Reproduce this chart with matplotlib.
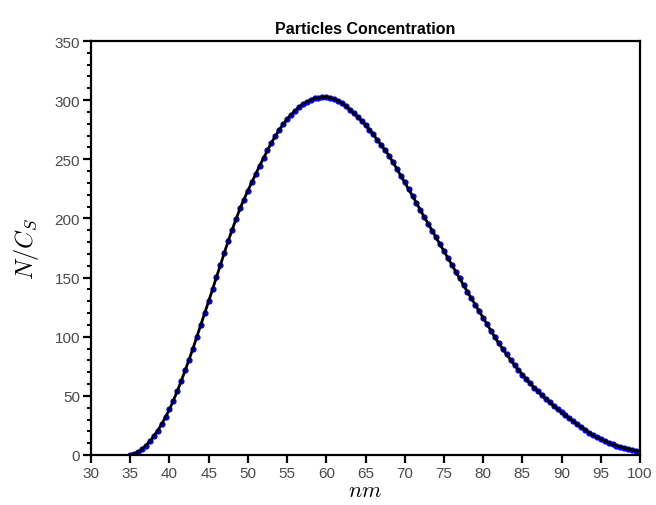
import numpy as np
import matplotlib.pyplot as plt
from matplotlib.ticker import MultipleLocator

plt.rcParams['font.family'] = ['Liberation Sans', 'DejaVu Sans']
plt.rcParams['mathtext.fontset'] = 'cm'

# particle size (nm), sampled every 0.5 nm
size_nm = np.arange(35.0, 100.01, 0.5)

# concentration N/C_S read at each size
conc = [
    0, 1, 2.5, 5, 8, 11.5, 16, 20.5, 26, 32,
    38.5, 46, 54, 62.5, 71.5, 80.5, 90, 100, 110, 120,
    130, 140, 150.5, 160.5, 171, 181, 190.5, 199.5, 208.5, 216,
    223.5, 230.5, 237.5, 244.5, 251, 257.5, 264, 269.5, 275, 279.5,
    284, 287.5, 291, 294, 296.5, 298.5, 300, 301.5, 302, 302.5,
    302.5, 302, 301, 299.5, 297.5, 295, 292, 289, 286, 282.5,
    279, 275, 271, 266.5, 262, 257.5, 253, 247.5, 242, 236,
    230.5, 224.5, 219, 213, 207, 201, 195.5, 189.5, 184, 178,
    172.5, 166.5, 161, 155, 149.5, 143.5, 138, 132.5, 127, 121.5,
    116, 110.5, 105, 99.5, 94.5, 89.5, 85, 80.5, 76, 72,
    68, 64, 60.5, 57, 54, 50.5, 47.5, 44.5, 41.5, 38.5,
    36, 33.5, 31, 28.5, 26, 23.5, 21.5, 19, 17, 15,
    13.5, 12, 10.5, 9, 8, 7, 6, 5, 4.5, 3.5,
    3,
]

fig = plt.figure(figsize=(6.56, 5.06), dpi=100)
ax = fig.add_axes([91 / 656, 50 / 506, 549 / 656, 414 / 506])

ax.plot(size_nm, conc, 'o', color='#0000ff', markersize=4.5, markeredgewidth=0)
ax.plot(size_nm, conc, '-', color='black', linewidth=2)

ax.set_xlim(30, 100)
ax.set_ylim(0, 350)
ax.xaxis.set_major_locator(MultipleLocator(5))
ax.yaxis.set_major_locator(MultipleLocator(50))
ax.yaxis.set_minor_locator(MultipleLocator(10))

for s in ax.spines.values():
    s.set_linewidth(1.6)
ax.tick_params(which='major', direction='out', length=6, width=1.6,
               labelsize=11, labelcolor='#4a4a4a', pad=2)
ax.tick_params(which='minor', direction='out', length=3, width=1.4)
ax.tick_params(top=False, right=False)

ax.set_title('Particles Concentration', fontsize=11.5, fontweight='bold', pad=6)
ax.set_xlabel('$nm$', fontsize=16, labelpad=0)
ax.set_ylabel('$N/C_S$', fontsize=17.5, labelpad=10)

fig.savefig('out.png', dpi=100)
